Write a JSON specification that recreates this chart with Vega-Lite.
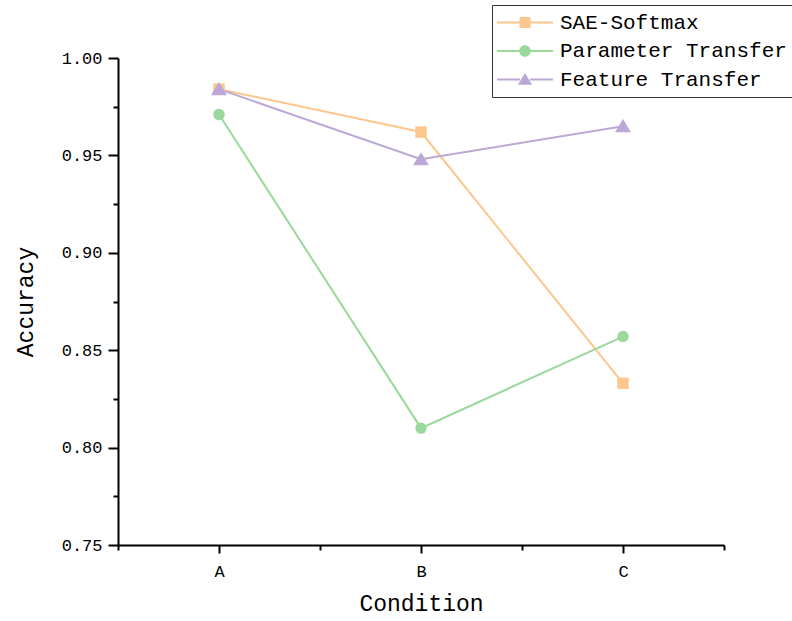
{
  "$schema": "https://vega.github.io/schema/vega-lite/v6.json",
  "width": 606,
  "height": 487,
  "autosize": {"type": "none"},
  "padding": {"left": 118, "top": 58, "right": 68, "bottom": 76},
  "background": "white",
  "data": {
    "values": [
      {"series": "SAE-Softmax", "condition": "A", "accuracy": 0.984},
      {"series": "SAE-Softmax", "condition": "B", "accuracy": 0.962},
      {"series": "SAE-Softmax", "condition": "C", "accuracy": 0.833},
      {"series": "Parameter Transfer", "condition": "A", "accuracy": 0.971},
      {"series": "Parameter Transfer", "condition": "B", "accuracy": 0.810},
      {"series": "Parameter Transfer", "condition": "C", "accuracy": 0.857},
      {"series": "Feature Transfer", "condition": "A", "accuracy": 0.984},
      {"series": "Feature Transfer", "condition": "B", "accuracy": 0.948},
      {"series": "Feature Transfer", "condition": "C", "accuracy": 0.965}
    ]
  },
  "transform": [
    {"window": [{"op": "dense_rank", "as": "idx"}], "sort": [{"field": "condition", "order": "ascending"}]}
  ],
  "encoding": {
    "x": {
      "field": "idx",
      "type": "quantitative",
      "scale": {"domain": [0.5, 3.5], "nice": false, "zero": false},
      "axis": {
        "title": "Condition",
        "values": [0.5, 1, 1.5, 2, 2.5, 3, 3.5],
        "labelExpr": "datum.value == 1 ? 'A' : datum.value == 2 ? 'B' : datum.value == 3 ? 'C' : ''",
        "tickSize": {"condition": {"test": "datum.value % 1 === 0", "value": 8}, "value": 5},
        "labelPadding": 10,
        "titlePadding": 13
      }
    },
    "y": {
      "field": "accuracy",
      "type": "quantitative",
      "scale": {"domain": [0.75, 1.0], "nice": false, "zero": false},
      "axis": {
        "title": "Accuracy",
        "values": [0.75, 0.775, 0.8, 0.825, 0.85, 0.875, 0.9, 0.925, 0.95, 0.975, 1.0],
        "labelExpr": "round(datum.value * 1000) % 50 === 0 ? format(datum.value, '.2f') : ''",
        "tickSize": {"condition": {"test": "round(datum.value * 1000) % 50 === 0", "value": 10}, "value": 5},
        "labelPadding": 6,
        "titlePadding": 24
      }
    }
  },
  "layer": [
    {
      "mark": {"type": "line", "strokeWidth": 2},
      "encoding": {
        "color": {
          "field": "series",
          "type": "nominal",
          "scale": {
            "domain": ["SAE-Softmax", "Parameter Transfer", "Feature Transfer"],
            "range": ["#FDC68C", "#9AD89B", "#BBA8D6"]
          },
          "legend": null
        }
      }
    },
    {
      "mark": {"type": "point", "filled": true, "opacity": 1, "size": 130},
      "encoding": {
        "color": {
          "field": "series",
          "type": "nominal",
          "scale": {
            "domain": ["SAE-Softmax", "Parameter Transfer", "Feature Transfer"],
            "range": ["#FDC68C", "#9AD89B", "#BBA8D6"]
          },
          "legend": null
        },
        "shape": {
          "field": "series",
          "type": "nominal",
          "scale": {
            "domain": ["SAE-Softmax", "Parameter Transfer", "Feature Transfer"],
            "range": ["square", "circle", "M0,-1.25L1.4,1.05L-1.4,1.05Z"]
          },
          "legend": null
        }
      }
    },
    {
      "mark": {"type": "point", "filled": true, "opacity": 0, "size": 121},
      "encoding": {
        "color": {
          "field": "series",
          "type": "nominal",
          "scale": {
            "domain": ["SAE-Softmax", "Parameter Transfer", "Feature Transfer"],
            "range": ["#FDC68C", "#9AD89B", "#BBA8D6"]
          }
        },
        "shape": {
          "field": "series",
          "type": "nominal",
          "scale": {
            "domain": ["SAE-Softmax", "Parameter Transfer", "Feature Transfer"],
            "range": [
              "M-5.1,-0.18H-0.9V0.18H-5.1Z M0.9,-0.18H5.1V0.18H0.9Z M-1,-1H1V1H-1Z",
              "M-5.1,-0.18H-0.9V0.18H-5.1Z M0.9,-0.18H5.1V0.18H0.9Z M-1.05,0A1.05,1.05 0 1,1 1.05,0A1.05,1.05 0 1,1 -1.05,0Z",
              "M-5.1,-0.18H-0.9V0.18H-5.1Z M0.9,-0.18H5.1V0.18H0.9Z M0,-1.2L1.3,0.95L-1.3,0.95Z"
            ]
          }
        }
      }
    }
  ],
  "resolve": {"scale": {"shape": "independent", "color": "independent"}},
  "config": {
    "view": {"stroke": null},
    "font": "Liberation Mono",
    "axis": {
      "domainColor": "black",
      "domainWidth": 2,
      "tickColor": "black",
      "tickWidth": 2,
      "labelFont": "Liberation Mono",
      "labelFontSize": 17,
      "labelColor": "black",
      "titleFont": "Liberation Mono",
      "titleFontSize": 23,
      "titleFontWeight": "normal",
      "titleColor": "black",
      "grid": false
    },
    "legend": {
      "title": null,
      "orient": "none",
      "legendX": 374,
      "legendY": -53,
      "strokeColor": "#333333",
      "strokeWidth": 1,
      "fillColor": "white",
      "padding": 7,
      "symbolSize": 121,
      "symbolOffset": 15.5,
      "labelOffset": 24.5,
      "labelFont": "Liberation Mono",
      "labelFontSize": 21,
      "labelColor": "black",
      "labelLimit": 0,
      "rowPadding": 6.5,
      "symbolOpacity": 1
    }
  }
}
